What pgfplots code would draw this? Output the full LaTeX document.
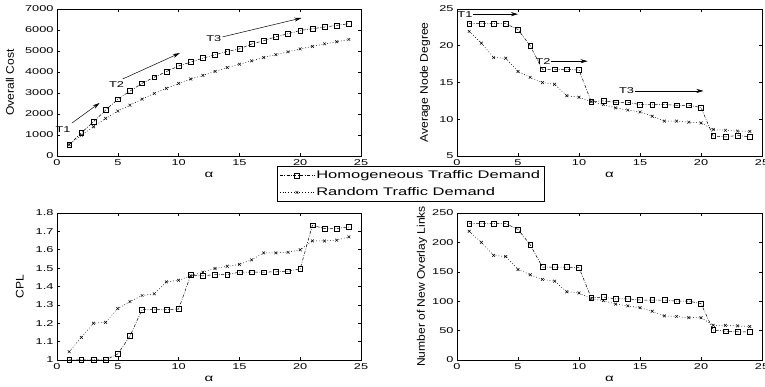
\documentclass[border=0pt]{standalone}
\usepackage{fontspec}
\setmainfont{Liberation Sans}[FakeStretch=1.5]
\newfontfamily\ylfont{Liberation Sans}[FakeStretch=1.1]
\usepackage{pgfplots}
\pgfplotsset{compat=1.18}
\usetikzlibrary{arrows.meta}

\pgfplotstableread{
x hc rc hd rd hp rp hl rl
1 540 540 23.0 21.95 1.000 1.045 232 219
2 1100 990 23.0 20.35 1.000 1.123 232 200
3 1630 1390 23.0 18.4 1.000 1.200 232 178
4 2190 1790 23.0 18.3 1.000 1.205 232 176
5 2700 2140 22.2 16.5 1.033 1.280 222 154
6 3090 2420 20.0 15.7 1.130 1.318 196 145
7 3460 2710 16.8 15.0 1.275 1.351 158 137
8 3750 2980 16.8 14.75 1.275 1.360 158 134
9 4020 3220 16.8 13.2 1.275 1.425 158 116
10 4290 3460 16.7 13.0 1.277 1.434 157 114
11 4470 3670 12.4 12.4 1.462 1.458 106 104
12 4660 3840 12.5 12.0 1.458 1.478 107 101
13 4820 4030 12.3 11.55 1.465 1.498 104 95
14 4980 4210 12.3 11.25 1.465 1.510 104 92
15 5100 4370 12.0 11.0 1.478 1.520 102 89
16 5330 4530 12.0 10.4 1.478 1.545 102 83
17 5490 4690 12.0 9.75 1.478 1.583 102 75
18 5680 4830 11.9 9.75 1.480 1.583 100 74
19 5820 4960 11.9 9.6 1.483 1.586 100 72
20 5980 5100 11.6 9.5 1.496 1.600 96 72
21 6060 5220 7.7 8.6 1.733 1.648 51 59
22 6140 5340 7.6 8.5 1.715 1.648 49 59
23 6220 5440 7.8 8.4 1.715 1.652 48 58
24 6300 5550 7.6 8.35 1.724 1.670 48 57
}\data

\pgfplotsset{
  myax/.style={scale only axis, width=304pt, height=147pt,
    xmin=0, xmax=25, xtick={0,5,...,25},
    tick align=inside, major tick length=3pt,
    axis line style={line width=0.6pt},
    every tick/.style={black, line width=0.5pt},
    tick label style={font=\fontsize{8.5}{9}\selectfont},
    /pgf/number format/assume math mode=true,
    /pgf/number format/1000 sep={},
    scaled y ticks=false,
    xlabel={α},
    xlabel style={font=\fontsize{10}{11}\selectfont, at={(axis description cs:0.5,-0.125)}, anchor=center},
    ylabel style={font=\ylfont\fontsize{11}{12}\selectfont, anchor=center},
    clip=false},
  hom/.style={black, line width=0.5pt, dash pattern=on 3pt off 1.5pt on 0.8pt off 1.5pt,
    mark=square, mark size=2.4pt, mark options={solid, line width=0.5pt}},
  rnd/.style={black, line width=0.5pt, dash pattern=on 0.8pt off 2pt,
    mark=x, mark size=2pt, mark options={solid, line width=0.5pt}},
}

\begin{document}
\begin{tikzpicture}
\path[use as bounding box] (0,0) rectangle (765pt,387pt);

% top-left
\begin{axis}[myax, at={(57pt,231pt)}, anchor=south west,
  ymin=0, ymax=7000, ytick={0,1000,...,7000},
  ylabel={Overall Cost},
  ylabel style={at={(axis description cs:-0.155,0.5)}},
  legend style={at={(1.164,-0.19)}, anchor=center, draw=black, line width=0.6pt,
    font=\fontsize{11}{12}\selectfont, cells={anchor=west}, row sep=3.5pt, inner sep=2pt},
  legend image code/.code={\draw[mark repeat=2,mark phase=2] plot coordinates {(0cm,0cm) (0.6cm,0cm) (1.2cm,0cm)};}]
\addplot[hom] table[x=x,y=hc] {\data};
\addplot[rnd] table[x=x,y=rc] {\data};
\legend{Homogeneous Traffic Demand, Random Traffic Demand}
\node[font=\fontsize{8.5}{9}\selectfont] at (axis cs:0.5,1240) {T1};
\draw[-{Stealth[length=7pt,width=4pt]}, line width=0.5pt] (axis cs:1.23,1571) -- (axis cs:3.5,2524);
\node[font=\fontsize{8.5}{9}\selectfont] at (axis cs:4.9,3380) {T2};
\draw[-{Stealth[length=7pt,width=4pt]}, line width=0.5pt] (axis cs:5.4,3667) -- (axis cs:10.1,4900);
\node[font=\fontsize{8.5}{9}\selectfont] at (axis cs:12.9,5570) {T3};
\draw[-{Stealth[length=7pt,width=4pt]}, line width=0.5pt] (axis cs:13.6,5670) -- (axis cs:20.1,6570);
\end{axis}

% top-right
\begin{axis}[myax, at={(457pt,231pt)}, anchor=south west, width=305pt,
  ymin=5, ymax=25, ytick={5,10,...,25},
  ylabel={Average Node Degree},
  ylabel style={at={(axis description cs:-0.105,0.5)}}]
\addplot[hom] table[x=x,y=hd] {\data};
\addplot[rnd] table[x=x,y=rd] {\data};
\node[font=\fontsize{8.5}{9}\selectfont] at (axis cs:0.65,24.2) {T1};
\draw[-{Stealth[length=7pt,width=4pt]}, line width=0.5pt] (axis cs:1.3,24.3) -- (axis cs:5.0,24.3);
\node[font=\fontsize{8.5}{9}\selectfont] at (axis cs:7.05,17.9) {T2};
\draw[-{Stealth[length=7pt,width=4pt]}, line width=0.5pt] (axis cs:7.7,17.9) -- (axis cs:10.7,17.9);
\node[font=\fontsize{8.5}{9}\selectfont] at (axis cs:13.9,13.85) {T3};
\draw[-{Stealth[length=7pt,width=4pt]}, line width=0.5pt] (axis cs:14.6,13.85) -- (axis cs:20.2,13.85);
\end{axis}

% bottom-left
\begin{axis}[myax, at={(57pt,27pt)}, anchor=south west,
  ymin=1, ymax=1.8, ytick={1,1.1,...,1.8},
  yticklabels={1,1.1,1.2,1.3,1.4,1.5,1.6,1.7,1.8},
  ylabel={CPL},
  ylabel style={at={(axis description cs:-0.122,0.5)}}]
\addplot[hom] table[x=x,y=hp] {\data};
\addplot[rnd] table[x=x,y=rp] {\data};
\end{axis}

% bottom-right
\begin{axis}[myax, at={(457pt,27pt)}, anchor=south west, width=305pt,
  ymin=0, ymax=250, ytick={0,50,...,250},
  ylabel={Number of New Overlay Links},
  ylabel style={at={(axis description cs:-0.115,0.5)}}]
\addplot[hom] table[x=x,y=hl] {\data};
\addplot[rnd] table[x=x,y=rl] {\data};
\end{axis}
\end{tikzpicture}
\end{document}
